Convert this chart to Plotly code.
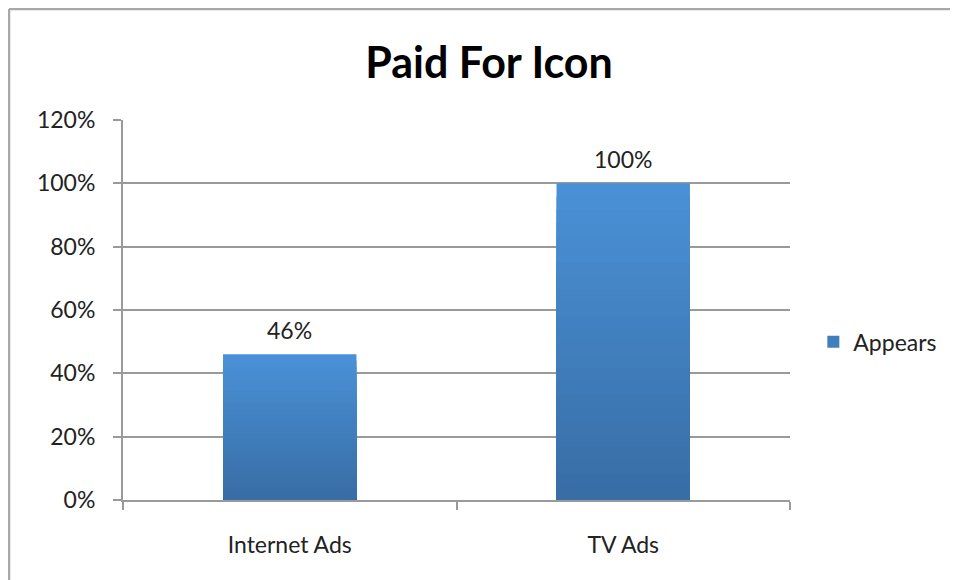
import plotly.graph_objects as go

categories = ["Internet Ads", "TV Ads"]
appears = [0.46, 1.00]
series_name = "Appears"
title_text = "Paid For Icon"
y_ticks = [0, 0.2, 0.4, 0.6, 0.8, 1.0, 1.2]
y_tick_labels = ["0%", "20%", "40%", "60%", "80%", "100%", "120%"]

FONT = "Lato, 'Open Sans', sans-serif"
top_rgb = (74, 144, 214)
bot_rgb = (56, 110, 166)
N = 24

fig = go.Figure()
for k in range(N):
    f = k / (N - 1)
    c = tuple(round(top_rgb[i] + (bot_rgb[i] - top_rgb[i]) * f) for i in range(3))
    fig.add_trace(go.Bar(
        x=categories,
        y=[v * (1 - k / N) for v in appears],
        name=series_name,
        legendgroup="a",
        showlegend=(k == N // 2),
        marker=dict(color="rgb(%d,%d,%d)" % c, line=dict(width=0)),
        hoverinfo="skip" if k else None,
    ))

for cat, v in zip(categories, appears):
    fig.add_annotation(x=cat, y=v, text=f"{round(v*100)}%", showarrow=False,
                       yanchor="middle", yshift=24,
                       font=dict(family=FONT, size=23, color="#222222"))

W, H = 950, 572
PL, PR, PT, PB = 115, 782, 112, 492
fig.update_layout(
    width=W, height=H,
    barmode="overlay",
    bargap=0.6,
    plot_bgcolor="white", paper_bgcolor="white",
    margin=dict(l=PL, r=W - PR, t=PT, b=H - PB),
    font=dict(family=FONT, size=23, color="#222222"),
    title=dict(text="<b>" + title_text + "</b>", x=481 / W, xref="container", xanchor="center",
               y=1 - 55 / H, yref="container", yanchor="middle",
               font=dict(family=FONT, size=43, color="#000000")),
    showlegend=True,
    legend=dict(x=1.035, y=0.416, xanchor="left", yanchor="middle",
                font=dict(family=FONT, size=23, color="#222222"),
                bgcolor="rgba(0,0,0,0)"),
)
fig.update_xaxes(
    type="category", tickson="boundaries", ticks="outside", ticklen=8, tickwidth=2,
    tickcolor="#9a9a9a", showline=True, linecolor="#9a9a9a", linewidth=2,
    showgrid=False, tickfont=dict(family=FONT, size=23, color="#222222"),
    ticklabelstandoff=23,
)
fig.update_yaxes(
    range=[0, 1.2], tickvals=y_ticks, ticktext=y_tick_labels,
    ticks="outside", ticklen=8, tickwidth=2, tickcolor="#9a9a9a",
    showline=True, linecolor="#9a9a9a", linewidth=2,
    showgrid=True, gridcolor="#9a9a9a", gridwidth=2, zeroline=False,
    tickfont=dict(family=FONT, size=23, color="#222222"),
    ticklabelstandoff=13,
)
# outer chart border (top and left edges; right and bottom lie beyond the view)
bx = (1 - PL) / (PR - PL)
by = (PB - 1) / (PB - PT)
fig.add_shape(type="line", xref="paper", yref="paper", x0=bx, x1=1.5, y0=by, y1=by,
              line=dict(color="#a8a8a8", width=2.5), layer="below")
fig.add_shape(type="line", xref="paper", yref="paper", x0=bx, x1=bx, y0=-0.5, y1=by,
              line=dict(color="#a8a8a8", width=2.5), layer="below")

fig.write_html("out.html")
